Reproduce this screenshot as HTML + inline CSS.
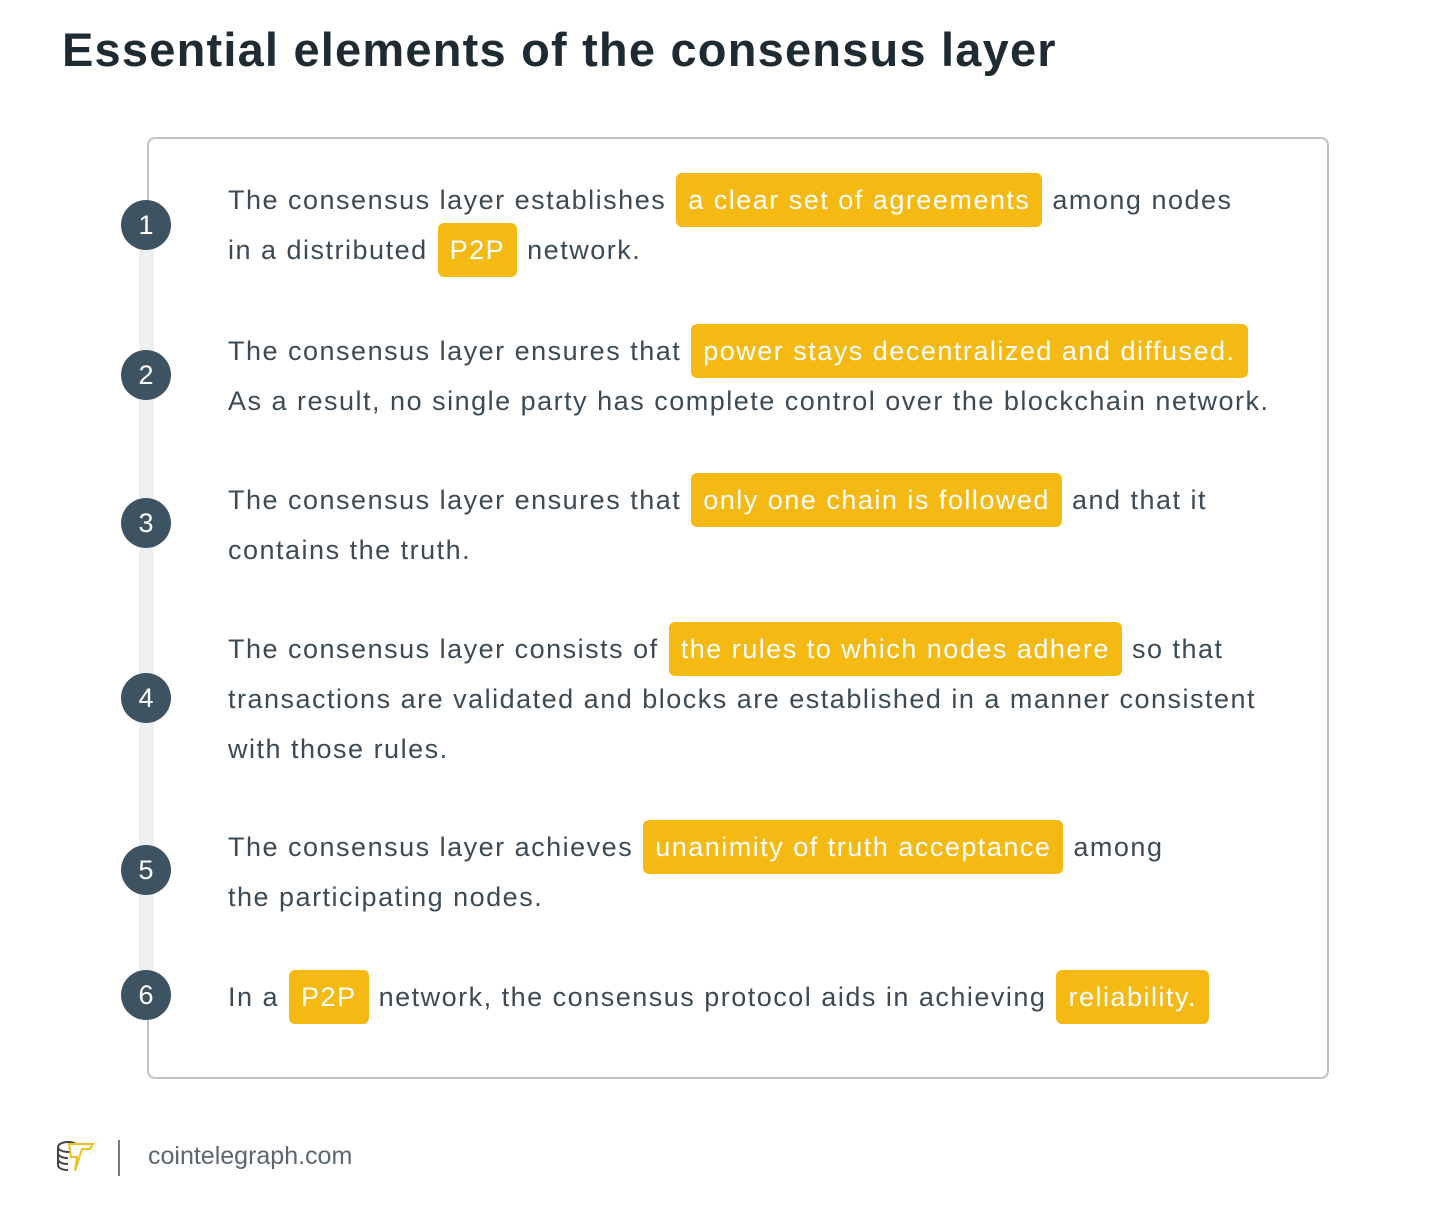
<!DOCTYPE html>
<html><head><meta charset="utf-8"><style>
body{margin:0;width:1450px;height:1207px;background:#fff;position:relative;font-family:"Liberation Sans",sans-serif;overflow:hidden}
h1{position:absolute;left:62px;top:22px;margin:0;font-size:47px;font-weight:bold;color:#1f2b33;letter-spacing:1.2px}
.box{position:absolute;left:147px;top:137px;width:1178px;height:938px;border:2px solid #bcc4ca;border-radius:8px}
.bar{position:absolute;left:139px;top:240px;width:15px;height:745px;background:#eef0f0}
.c{position:absolute;left:121px;width:50px;height:50px;border-radius:50%;background:#3d5361;color:#fff;font-size:27px;line-height:50px;text-align:center}
.p{position:absolute;left:228px;font-size:27px;letter-spacing:1.5px;line-height:50px;color:#3b4a55;white-space:nowrap}
.h{display:inline-block;background:#f5b914;color:#fff;border-radius:6px;height:54px;line-height:54px;padding:0 12px;margin:-4px 1px;vertical-align:middle;position:relative;top:-2px}
.foot{position:absolute;left:148px;top:1142px;font-size:25px;letter-spacing:0px;color:#5a6670}
.sep{position:absolute;left:118px;top:1140px;width:2px;height:36px;background:#777}
</style></head><body>
<h1>Essential elements of the consensus layer</h1>
<div class="box"></div>
<div class="bar"></div>
<div class="c" style="top:200px">1</div>
<div class="c" style="top:350px">2</div>
<div class="c" style="top:498px">3</div>
<div class="c" style="top:673px">4</div>
<div class="c" style="top:845px">5</div>
<div class="c" style="top:970px">6</div>
<div class="p" style="top:175px">The consensus layer establishes <span class="h">a clear set of agreements</span> among nodes<br>in a distributed <span class="h">P2P</span> network.</div>
<div class="p" style="top:326px">The consensus layer ensures that <span class="h">power stays decentralized and diffused.</span><br>As a result, no single party has complete control over the blockchain network.</div>
<div class="p" style="top:475px">The consensus layer ensures that <span class="h">only one chain is followed</span> and that it<br>contains the truth.</div>
<div class="p" style="top:624px">The consensus layer consists of <span class="h">the rules to which nodes adhere</span> so that<br>transactions are validated and blocks are established in a manner consistent<br>with those rules.</div>
<div class="p" style="top:822px">The consensus layer achieves <span class="h">unanimity of truth acceptance</span> among<br>the participating nodes.</div>
<div class="p" style="top:972px">In a <span class="h">P2P</span> network, the consensus protocol aids in achieving <span class="h">reliability.</span></div>
<svg style="position:absolute;left:55px;top:1138px" width="42" height="38" viewBox="0 0 42 38">
<g fill="none" stroke="#444" stroke-width="2"><ellipse cx="13" cy="9" rx="10" ry="5"/><path d="M3 9v6c0 3 4 5 10 5M3 15v6c0 3 4 5 10 5M3 21v6c0 3 4 5 10 5"/></g>
<path d="M14 6h24l-3 5h-8l-7 22 2-14h-6z" fill="#fff" stroke="#f0c020" stroke-width="2"/>
</svg>
<div class="sep"></div>
<div class="foot">cointelegraph.com</div>
</body></html>
